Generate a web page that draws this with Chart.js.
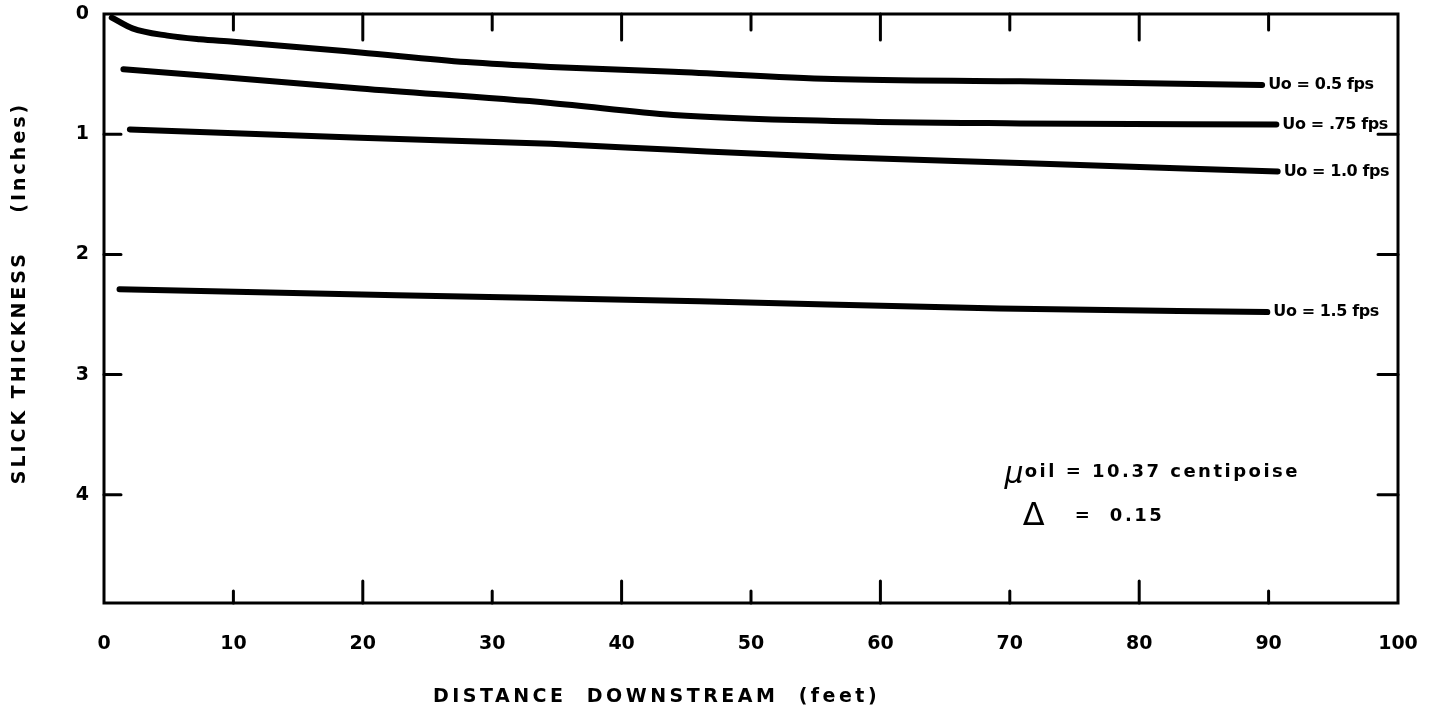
<!DOCTYPE html>
<html>
<head>
<meta charset="utf-8">
<script src="https://cdn.jsdelivr.net/npm/chart.js@4.4.1/dist/chart.umd.min.js"></script>
<style>
  html, body { margin: 0; padding: 0; background: #fff; }
</style>
</head>
<body>
<canvas id="myChart" width="1431" height="714"></canvas>
<script>
// Data: distance downstream (feet) vs slick thickness (inches)
const dist05 = [0.6, 2.2, 4.9, 7.4, 10, 19.8, 28, 34.5, 44, 56.3, 70.8, 89.5];
const thick05 = [0.03, 0.12, 0.18, 0.21, 0.23, 0.32, 0.40, 0.44, 0.48, 0.54, 0.56, 0.59];

const dist075 = [1.5, 7.4, 19.8, 34.5, 44, 56.3, 70.8, 90.6];
const thick075 = [0.46, 0.51, 0.62, 0.74, 0.84, 0.89, 0.91, 0.92];

const dist10 = [2.0, 19.8, 34.5, 44, 56.3, 70.8, 90.7];
const thick10 = [0.96, 1.03, 1.08, 1.13, 1.19, 1.24, 1.31];

const dist15 = [1.2, 22.6, 46, 69.2, 89.9];
const thick15 = [2.29, 2.34, 2.39, 2.45, 2.48];

const seriesLabels = ['Uo = 0.5 fps', 'Uo = .75 fps', 'Uo = 1.0 fps', 'Uo = 1.5 fps'];

const xTickValues = [0, 10, 20, 30, 40, 50, 60, 70, 80, 90, 100];
const yTickValues = [0, 1, 2, 3, 4];

const xTitle = 'DISTANCE  DOWNSTREAM  (feet)';
const yTitle = 'SLICK THICKNESS    (Inches)';
const noteMu = ['\u03BC', 'oil = 10.37 centipoise'];
const noteDelta = ['\u0394', '=  0.15'];

const FONT = '"DejaVu Sans", "Liberation Sans", sans-serif';

function toPoints(xs, ys) {
  return xs.map((x, i) => ({ x: x, y: ys[i] }));
}

// frame, inward ticks, curve labels, note and axis titles
const paperLook = {
  id: 'paperLook',
  afterDraw: (chart) => {
    const ctx = chart.ctx;
    const a = chart.chartArea;
    const xs = chart.scales.x;
    const ys = chart.scales.y;
    ctx.save();
    ctx.strokeStyle = '#000';
    ctx.fillStyle = '#000';

    ctx.lineWidth = 3;
    ctx.strokeRect(a.left, a.top, a.right - a.left, a.bottom - a.top);

    ctx.lineCap = 'round';
    xTickValues.slice(1, -1).forEach(v => {
      const px = xs.getPixelForValue(v);
      const len = v % 20 === 0 ? 26 : 16;
      ctx.beginPath();
      ctx.moveTo(px, a.top);
      ctx.lineTo(px, a.top + len);
      ctx.moveTo(px, a.bottom);
      ctx.lineTo(px, a.bottom - len + 4);
      ctx.stroke();
    });
    yTickValues.slice(1).forEach(v => {
      const py = ys.getPixelForValue(v);
      ctx.beginPath();
      ctx.moveTo(a.left, py);
      ctx.lineTo(a.left + 17, py);
      ctx.moveTo(a.right, py);
      ctx.lineTo(a.right - 20, py);
      ctx.stroke();
    });

    // labels at the end of each curve
    ctx.font = 'bold 16px ' + FONT;
    ctx.letterSpacing = '-0.4px';
    ctx.textBaseline = 'middle';
    ctx.textAlign = 'left';
    chart.data.datasets.forEach((ds, i) => {
      const pts = chart.getDatasetMeta(i).data;
      const last = pts[pts.length - 1];
      ctx.fillText(seriesLabels[i], last.x + 6, last.y);
    });
    ctx.letterSpacing = '0px';

    // viscosity note
    let px = xs.getPixelForValue(69.6);
    let py = ys.getPixelForValue(3.81);
    ctx.font = 'italic 30px ' + FONT;
    ctx.fillText(noteMu[0], px, py + 3);
    const muW = ctx.measureText(noteMu[0]).width;
    ctx.font = 'bold 18px ' + FONT;
    ctx.letterSpacing = '2.5px';
    ctx.fillText(noteMu[1], px + muW + 1, py);
    ctx.letterSpacing = '0px';

    px = xs.getPixelForValue(71.0);
    py = ys.getPixelForValue(4.18);
    ctx.font = '32px ' + FONT;
    ctx.fillText(noteDelta[0], px, py);
    ctx.font = 'bold 18px ' + FONT;
    ctx.letterSpacing = '2.5px';
    ctx.fillText(noteDelta[1], px + 52, py);

    // axis titles
    ctx.font = 'bold 19px ' + FONT;
    ctx.letterSpacing = '3.5px';
    ctx.textAlign = 'left';
    ctx.fillText(xTitle, a.left + 329, 697);

    ctx.letterSpacing = '3px';
    ctx.translate(20, 293);
    ctx.rotate(-Math.PI / 2);
    ctx.textAlign = 'center';
    ctx.fillText(yTitle, 0, 0);
    ctx.restore();
  }
};

const lineStyle = {
  borderColor: '#000',
  backgroundColor: '#000',
  borderWidth: 6,
  borderCapStyle: 'round',
  borderJoinStyle: 'round',
  pointRadius: 0,
  fill: false,
  cubicInterpolationMode: 'monotone'
};

const ctx = document.getElementById('myChart').getContext('2d');
const chart = new Chart(ctx, {
  type: 'line',
  data: {
    datasets: [
      Object.assign({ label: seriesLabels[0], data: toPoints(dist05, thick05) }, lineStyle),
      Object.assign({ label: seriesLabels[1], data: toPoints(dist075, thick075) }, lineStyle),
      Object.assign({ label: seriesLabels[2], data: toPoints(dist10, thick10) }, lineStyle),
      Object.assign({ label: seriesLabels[3], data: toPoints(dist15, thick15) }, lineStyle)
    ]
  },
  plugins: [paperLook],
  options: {
    responsive: false,
    animation: false,
    layout: { padding: { top: 14, right: 33, left: 0, bottom: 0 } },
    plugins: {
      legend: { display: false },
      tooltip: { enabled: false }
    },
    scales: {
      x: {
        type: 'linear',
        min: 0,
        max: 100,
        afterBuildTicks: (s) => { s.ticks = xTickValues.map(v => ({ value: v })); },
        afterFit: (s) => { s.height = 111; s.paddingLeft = 0; s.paddingRight = 0; },
        grid: { display: false, drawTicks: false },
        border: { display: false },
        ticks: {
          color: '#000',
          padding: 30,
          maxRotation: 0,
          font: { family: FONT, size: 19, weight: 'bold' }
        }
      },
      y: {
        type: 'linear',
        reverse: true,
        min: 0,
        max: 4.9,
        afterBuildTicks: (s) => { s.ticks = yTickValues.map(v => ({ value: v })); },
        afterFit: (s) => { s.width = 104; s.paddingTop = 0; s.paddingBottom = 0; },
        grid: { display: false, drawTicks: false },
        border: { display: false },
        ticks: {
          color: '#000',
          padding: 15,
          font: { family: FONT, size: 19, weight: 'bold' }
        }
      }
    }
  }
});
</script>
</body>
</html>
